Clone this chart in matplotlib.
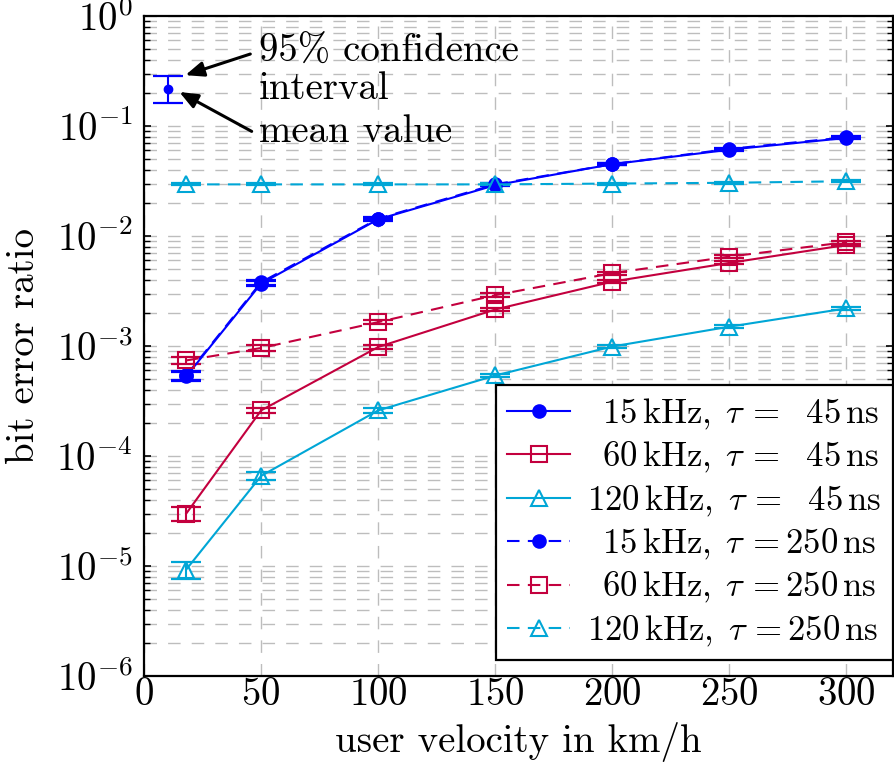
import matplotlib
matplotlib.use("Agg")
import matplotlib.pyplot as plt
from matplotlib.ticker import LogLocator, NullFormatter

# Computer-Modern-Optik wie im LaTeX-Original
plt.rcParams['font.family'] = 'serif'
plt.rcParams['font.serif'] = ['cmr10']
plt.rcParams['mathtext.fontset'] = 'cm'
plt.rcParams['axes.formatter.use_mathtext'] = True
plt.rcParams['axes.unicode_minus'] = False

# Daten
velocity = [18, 50, 100, 150, 200, 250, 300]

ber_15_45 = [5.3e-4, 3.7e-3, 1.42e-2, 2.9e-2, 4.5e-2, 6.1e-2, 7.8e-2]
ber_60_45 = [3.0e-5, 2.6e-4, 9.8e-4, 2.15e-3, 3.85e-3, 5.7e-3, 8.3e-3]
ber_120_45 = [9.3e-6, 6.6e-5, 2.6e-4, 5.4e-4, 9.9e-4, 1.5e-3, 2.2e-3]
ber_15_250 = [5.4e-4, 3.8e-3, 1.44e-2, 2.95e-2, 4.5e-2, 6.2e-2, 7.9e-2]
ber_60_250 = [7.4e-4, 9.6e-4, 1.65e-3, 2.9e-3, 4.6e-3, 6.5e-3, 8.8e-3]
ber_120_250 = [2.95e-2, 2.95e-2, 2.95e-2, 2.95e-2, 3.0e-2, 3.05e-2, 3.15e-2]

# relative Halbbreite der 95%-Konfidenzintervalle
ci_15_45 = [0.09, 0.05, 0.03, 0.02, 0.02, 0.02, 0.02]
ci_60_45 = [0.14, 0.06, 0.04, 0.04, 0.03, 0.03, 0.03]
ci_120_45 = [0.18, 0.09, 0.05, 0.04, 0.03, 0.03, 0.03]
ci_15_250 = [0.09, 0.05, 0.03, 0.02, 0.02, 0.02, 0.02]
ci_60_250 = [0.08, 0.06, 0.04, 0.04, 0.03, 0.03, 0.03]
ci_120_250 = [0.02, 0.02, 0.02, 0.02, 0.02, 0.02, 0.02]

# Beispielpunkt für die Erklärung
demo_x = 10
demo_mean = 0.215
demo_low = 0.161
demo_high = 0.285

blue = '#0000ff'
red = '#c3003e'
cyan = '#00a6d6'

sp = r'\hspace{0.5}'  # Ziffernbreite
series = [
    (ber_15_45, ci_15_45, blue, 'o', True, '-', r'$' + sp + r'15\,\mathrm{kHz},\;\tau\,{=}' + sp + r'\,45\,\mathrm{ns}$'),
    (ber_60_45, ci_60_45, red, 's', False, '-', r'$' + sp + r'60\,\mathrm{kHz},\;\tau\,{=}' + sp + r'\,45\,\mathrm{ns}$'),
    (ber_120_45, ci_120_45, cyan, '^', False, '-', r'$120\,\mathrm{kHz},\;\tau\,{=}' + sp + r'\,45\,\mathrm{ns}$'),
    (ber_15_250, ci_15_250, blue, 'o', True, '--', r'$' + sp + r'15\,\mathrm{kHz},\;\tau\,{=}250\,\mathrm{ns}$'),
    (ber_60_250, ci_60_250, red, 's', False, '--', r'$' + sp + r'60\,\mathrm{kHz},\;\tau\,{=}250\,\mathrm{ns}$'),
    (ber_120_250, ci_120_250, cyan, '^', False, '--', r'$120\,\mathrm{kHz},\;\tau\,{=}250\,\mathrm{ns}$'),
]

fig = plt.figure(figsize=(8.95, 7.65), dpi=100)
ax = fig.add_axes([0.161, 0.1163, 0.837, 0.8627])

handles = []
for ber, ci, col, mk, filled, ls, lab in series:
    err = [b * c for b, c in zip(ber, ci)]
    ax.errorbar(velocity, ber, yerr=[err, err], fmt='none', ecolor=col, elinewidth=1.5,
                capsize=11, capthick=1.6, zorder=3)
    ms = 9 if mk == 'o' else 11
    h, = ax.plot(velocity, ber, color=col, linestyle=ls, lw=1.5, marker=mk,
                 markersize=ms, markeredgewidth=1.5,
                 markerfacecolor=col if filled else 'none',
                 label=lab, zorder=4)
    if ls == '--':
        h.set_dashes((6, 4))
    handles.append(h)

# Erklärungspunkt
ax.errorbar([demo_x], [demo_mean], yerr=[[demo_mean - demo_low], [demo_high - demo_mean]],
            fmt='o', color=blue, markersize=6, elinewidth=1.5, capsize=11, capthick=1.6, zorder=4)
ax.annotate('', xy=(16.5, 0.285), xytext=(46.5, 0.46),
            arrowprops=dict(arrowstyle='-|>,head_length=1.1,head_width=0.45', color='black', lw=2.2))
ax.annotate('', xy=(14, 0.21), xytext=(47, 0.087),
            arrowprops=dict(arrowstyle='-|>,head_length=1.1,head_width=0.45', color='black', lw=2.2))
ax.text(49, 0.47, '95% confidence', fontsize=28, va='center', ha='left')
ax.text(49, 0.215, 'interval', fontsize=28, va='center', ha='left')
ax.text(49, 0.088, 'mean value', fontsize=28, va='center', ha='left')

ax.set_yscale('log')
ax.set_xlim(0, 320)
ax.set_ylim(1e-6, 1)
ax.set_xticks([0, 50, 100, 150, 200, 250, 300])
ax.yaxis.set_major_locator(LogLocator(base=10, numticks=10))
ax.yaxis.set_minor_locator(LogLocator(base=10, subs=range(2, 10), numticks=100))
ax.yaxis.set_minor_formatter(NullFormatter())

ax.grid(True, which='major', color='#bdbdbd', linestyle=(0, (9, 8)), lw=1.0, zorder=0)
ax.grid(True, which='minor', axis='y', color='#bdbdbd', linestyle=(0, (9, 8)), lw=1.0, zorder=0)
ax.set_axisbelow(True)

ax.tick_params(axis='x', which='both', length=0, labelsize=28, pad=1)
ax.tick_params(axis='y', which='major', direction='in', length=5, width=1.2, right=True, labelsize=28, pad=8)
ax.tick_params(axis='y', which='minor', direction='in', length=4, width=1.0, right=True)
for s in ax.spines.values():
    s.set_linewidth(1.6)

ax.set_xlabel('user velocity in km/h', fontsize=28, labelpad=6)
ax.set_ylabel('bit error ratio', fontsize=28, labelpad=10)

leg = ax.legend(handles=handles, loc='lower right', bbox_to_anchor=(1.0, 0.024), fontsize=25,
                frameon=True, fancybox=False, edgecolor='black', framealpha=1,
                borderpad=0.33, labelspacing=0.24, handlelength=1.8, handletextpad=0.5,
                borderaxespad=0.0)
leg.get_frame().set_linewidth(1.6)

fig.savefig('out.png', dpi=100)
